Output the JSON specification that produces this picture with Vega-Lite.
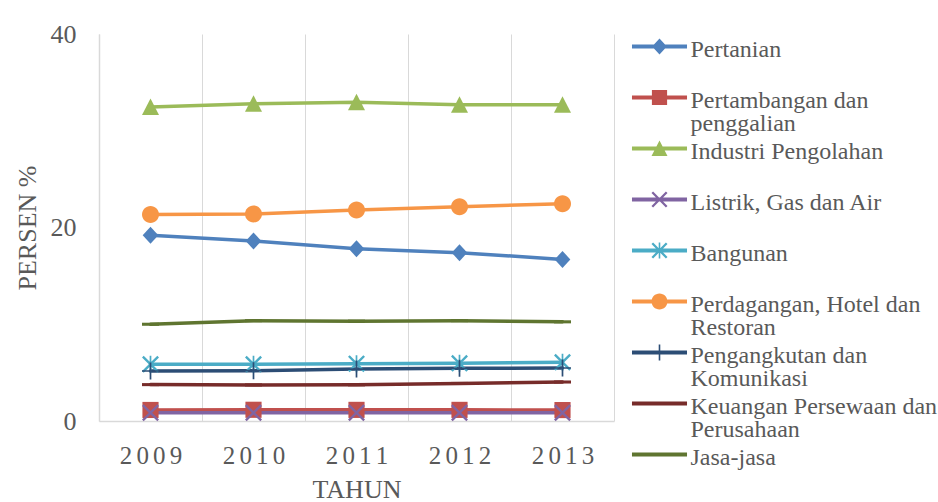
{
  "$schema": "https://vega.github.io/schema/vega-lite/v6.json",
  "width": 515,
  "height": 387,
  "autosize": {"type": "none"},
  "padding": {"left": 99, "top": 34, "right": 324, "bottom": 81},
  "background": "white",
  "config": {"view": {"stroke": null}, "font": "Liberation Serif"},
  "data": {
    "values": [
      {"series": "Pertanian", "year": "2009", "value": 19.2},
      {"series": "Pertanian", "year": "2010", "value": 18.6},
      {"series": "Pertanian", "year": "2011", "value": 17.8},
      {"series": "Pertanian", "year": "2012", "value": 17.4},
      {"series": "Pertanian", "year": "2013", "value": 16.7},
      {"series": "Pertambangan dan penggalian", "year": "2009", "value": 1.14},
      {"series": "Pertambangan dan penggalian", "year": "2010", "value": 1.16},
      {"series": "Pertambangan dan penggalian", "year": "2011", "value": 1.15},
      {"series": "Pertambangan dan penggalian", "year": "2012", "value": 1.15},
      {"series": "Pertambangan dan penggalian", "year": "2013", "value": 1.13},
      {"series": "Industri Pengolahan", "year": "2009", "value": 32.45},
      {"series": "Industri Pengolahan", "year": "2010", "value": 32.8},
      {"series": "Industri Pengolahan", "year": "2011", "value": 32.95},
      {"series": "Industri Pengolahan", "year": "2012", "value": 32.7},
      {"series": "Industri Pengolahan", "year": "2013", "value": 32.7},
      {"series": "Listrik, Gas dan Air", "year": "2009", "value": 0.85},
      {"series": "Listrik, Gas dan Air", "year": "2010", "value": 0.86},
      {"series": "Listrik, Gas dan Air", "year": "2011", "value": 0.85},
      {"series": "Listrik, Gas dan Air", "year": "2012", "value": 0.86},
      {"series": "Listrik, Gas dan Air", "year": "2013", "value": 0.86},
      {"series": "Bangunan", "year": "2009", "value": 5.86},
      {"series": "Bangunan", "year": "2010", "value": 5.87},
      {"series": "Bangunan", "year": "2011", "value": 5.93},
      {"series": "Bangunan", "year": "2012", "value": 5.96},
      {"series": "Bangunan", "year": "2013", "value": 6.08},
      {"series": "Perdagangan, Hotel dan Restoran", "year": "2009", "value": 21.35},
      {"series": "Perdagangan, Hotel dan Restoran", "year": "2010", "value": 21.4},
      {"series": "Perdagangan, Hotel dan Restoran", "year": "2011", "value": 21.8},
      {"series": "Perdagangan, Hotel dan Restoran", "year": "2012", "value": 22.15},
      {"series": "Perdagangan, Hotel dan Restoran", "year": "2013", "value": 22.45},
      {"series": "Pengangkutan dan Komunikasi", "year": "2009", "value": 5.17},
      {"series": "Pengangkutan dan Komunikasi", "year": "2010", "value": 5.2},
      {"series": "Pengangkutan dan Komunikasi", "year": "2011", "value": 5.37},
      {"series": "Pengangkutan dan Komunikasi", "year": "2012", "value": 5.44},
      {"series": "Pengangkutan dan Komunikasi", "year": "2013", "value": 5.48},
      {"series": "Keuangan Persewaan dan Perusahaan", "year": "2009", "value": 3.76},
      {"series": "Keuangan Persewaan dan Perusahaan", "year": "2010", "value": 3.73},
      {"series": "Keuangan Persewaan dan Perusahaan", "year": "2011", "value": 3.74},
      {"series": "Keuangan Persewaan dan Perusahaan", "year": "2012", "value": 3.88},
      {"series": "Keuangan Persewaan dan Perusahaan", "year": "2013", "value": 4.03},
      {"series": "Jasa-jasa", "year": "2009", "value": 10.0},
      {"series": "Jasa-jasa", "year": "2010", "value": 10.37},
      {"series": "Jasa-jasa", "year": "2011", "value": 10.32},
      {"series": "Jasa-jasa", "year": "2012", "value": 10.37},
      {"series": "Jasa-jasa", "year": "2013", "value": 10.25}
    ]
  },
  "encoding": {
    "x": {
      "field": "year",
      "type": "ordinal",
      "bandPosition": 0.5,
      "scale": {"type": "band", "paddingInner": 0, "paddingOuter": 0},
      "axis": {
        "title": "TAHUN",
        "tickBand": "extent",
        "grid": true,
        "gridColor": "#D9D9D9",
        "gridWidth": 1,
        "ticks": false,
        "tickSize": 0,
        "domainColor": "#D9D9D9",
        "domainWidth": 1.5,
        "labelAngle": 0,
        "labelFont": "Liberation Serif",
        "labelFontSize": 25,
        "labelColor": "#595959",
        "labelPadding": 22,
        "labelExpr": "join(split(datum.label, ''), '\u2006')",
        "titleFont": "Liberation Serif",
        "titleFontSize": 26,
        "titleFontWeight": "normal",
        "titleColor": "#595959",
        "titlePadding": 8
      }
    },
    "y": {
      "field": "value",
      "type": "quantitative",
      "scale": {"domain": [0, 40], "nice": false},
      "axis": {
        "values": [0, 20, 40],
        "title": "PERSEN %",
        "grid": false,
        "ticks": false,
        "tickSize": 0,
        "domainColor": "#D9D9D9",
        "domainWidth": 1.5,
        "labelFont": "Liberation Serif",
        "labelFontSize": 26,
        "labelColor": "#595959",
        "labelPadding": 23,
        "titleFont": "Liberation Serif",
        "titleFontSize": 26,
        "titleFontWeight": "normal",
        "titleColor": "#595959",
        "titlePadding": 10
      }
    },
    "color": {
      "field": "series",
      "type": "nominal",
      "sort": null,
      "scale": {
        "domain": ["Pertanian", "Pertambangan dan penggalian", "Industri Pengolahan", "Listrik, Gas dan Air", "Bangunan", "Perdagangan, Hotel dan Restoran", "Pengangkutan dan Komunikasi", "Keuangan Persewaan dan Perusahaan", "Jasa-jasa"],
        "range": ["#4F81BD", "#C0504D", "#9BBB59", "#8064A2", "#4BACC6", "#F79646", "#2C4D75", "#772C2A", "#5F7530"]
      },
      "legend": {
        "title": null,
        "orient": "right",
        "offset": 12.5,
        "padding": 0.5,
        "rowPadding": 0,
        "labelFont": "Liberation Serif",
        "labelFontSize": 24,
        "labelColor": "#595959",
        "labelLimit": 400,
        "labelBaseline": "top",
        "labelOffset": 19,
        "symbolOffset": 20,
        "symbolSize": 256,
        "symbolStrokeWidth": 0,
        "symbolOpacity": 1,
        "labelExpr": "length(datum.label) > 21 ? [substring(datum.label, 0, lastindexof(datum.label, ' ')), substring(datum.label, lastindexof(datum.label, ' ') + 1)] : [datum.label, '']",
        "encode": {
          "symbols": {
            "update": {
              "shape": {"signal": "'M-3.44,-0.25H3.44V0.25H-3.44Z ' + scale('shape', datum.value)"},
              "size": {"value": 256},
              "opacity": {"value": 1}
            }
          },
          "labels": {"update": {"dy": {"value": -9}, "lineHeight": {"value": 23.7}}}
        }
      }
    }
  },
  "resolve": {"legend": {"shape": "independent"}},
  "layer": [
    {"mark": {"type": "line", "strokeWidth": 3.5, "strokeCap": "round", "strokeJoin": "round"}},
    {
      "mark": {"type": "point", "filled": true, "size": 289, "opacity": 1, "strokeWidth": 0},
      "encoding": {
        "shape": {
          "field": "series",
          "type": "nominal",
          "sort": null,
          "legend": null,
          "scale": {
            "domain": ["Pertanian", "Pertambangan dan penggalian", "Industri Pengolahan", "Listrik, Gas dan Air", "Bangunan", "Perdagangan, Hotel dan Restoran", "Pengangkutan dan Komunikasi", "Keuangan Persewaan dan Perusahaan", "Jasa-jasa"],
            "range": [
              "M0,-1L0.92,0L0,1L-0.92,0Z",
              "M-0.95,-0.95H0.95V0.95H-0.95Z",
              "M0,-1L1,0.95H-1Z",
              "M-1,-0.8L-0.8,-1L0,-0.2L0.8,-1L1,-0.8L0.2,0L1,0.8L0.8,1L0,0.2L-0.8,1L-1,0.8L-0.2,0Z",
              "M-1,-0.8L-0.8,-1L0,-0.2L0.8,-1L1,-0.8L0.2,0L1,0.8L0.8,1L0,0.2L-0.8,1L-1,0.8L-0.2,0Z M-0.1,-1H0.1V1H-0.1Z",
              "M-1,0A1,1 0 1,1 1,0A1,1 0 1,1 -1,0Z",
              "M-0.1,-1H0.1V1H-0.1Z M-1,-0.1H1V0.1H-1Z",
              "M-1,-0.18H1V0.18H-1Z",
              "M-1,-0.18H1V0.18H-1Z"
            ]
          }
        }
      }
    }
  ]
}
